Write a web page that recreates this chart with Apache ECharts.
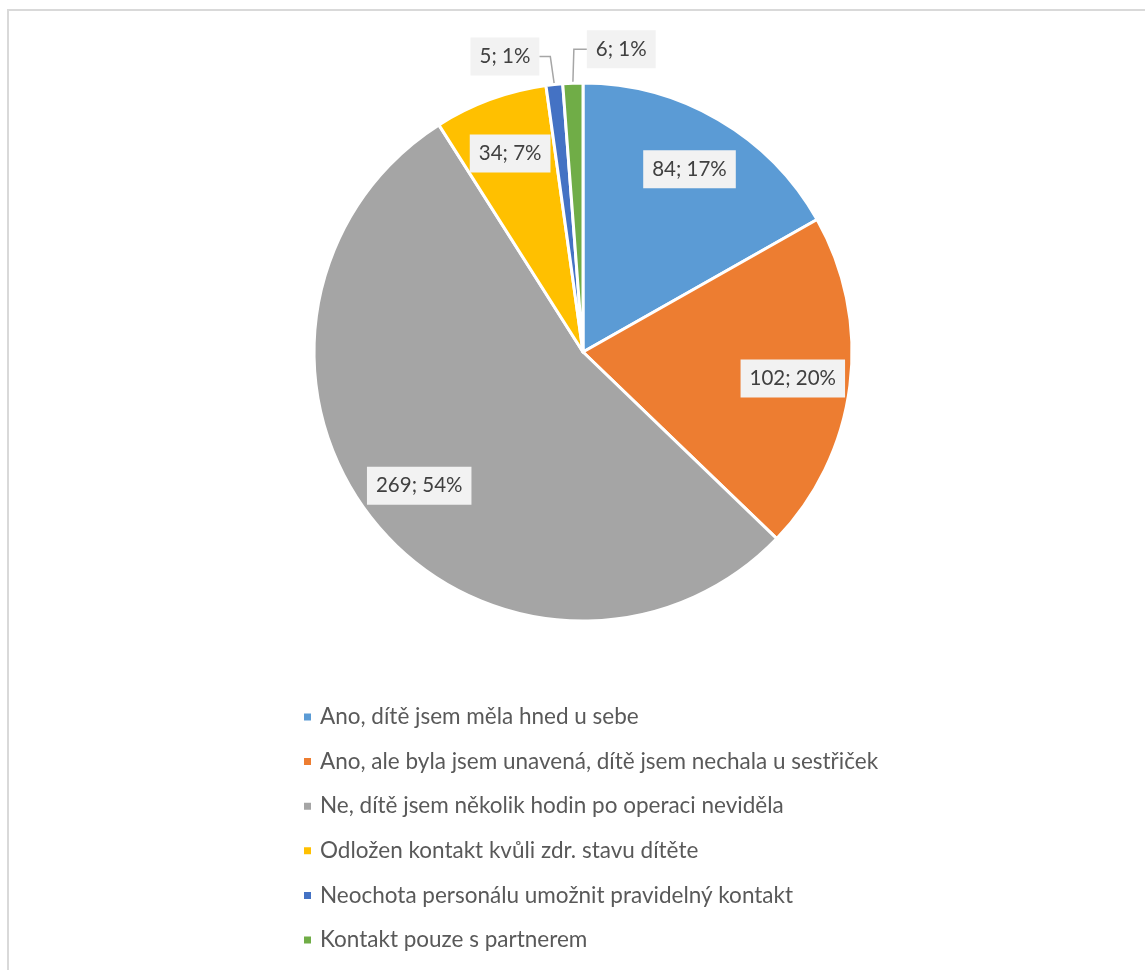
<!DOCTYPE html>
<html>
<head>
<meta charset="utf-8">
<script src="https://cdn.jsdelivr.net/npm/echarts@6/dist/echarts.min.js"></script>
<style>
  html, body { margin: 0; padding: 0; background: #fff; }
  #chart { width: 1145px; height: 970px; }
</style>
</head>
<body>
<div id="chart"></div>
<script>
// Answer categories and counts
const categories = [
  'Ano, dítě jsem měla hned u sebe',
  'Ano, ale byla jsem unavená, dítě jsem nechala u sestřiček',
  'Ne, dítě jsem několik hodin po operaci neviděla',
  'Odložen kontakt kvůli zdr. stavu dítěte',
  'Neochota personálu umožnit pravidelný kontakt',
  'Kontakt pouze s partnerem'
];
const counts = [84, 102, 269, 34, 5, 6];
const colors = ['#5B9BD5', '#ED7D31', '#A5A5A5', '#FFC000', '#4472C4', '#70AD47'];
// Slices too thin to hold their label inside
const outsideLabels = [false, false, false, false, true, true];

const total = counts.reduce((a, b) => a + b, 0);
const FONT = 'Lato, "Open Sans", sans-serif';
const CENTER = [583, 352];
const R = 269;

const sliceData = categories.map((name, i) => ({
  name, value: counts[i], itemStyle: { color: colors[i] }
}));

const labelData = categories.map((name, i) => ({
  name, value: counts[i],
  label: { position: outsideLabels[i] ? 'outside' : 'inside' },
  labelLine: { show: outsideLabels[i] }
}));

const labelStyle = {
  show: true,
  formatter: p => p.value + '; ' + Math.round(p.value / total * 100) + '%',
  fontFamily: FONT,
  fontSize: 20.5,
  color: '#404040',
  backgroundColor: '#F2F2F2',
  padding: [9, 9, 8, 9]
};

const chart = echarts.init(document.getElementById('chart'));
chart.setOption({
  backgroundColor: '#fff',
  animation: false,
  graphic: [{
    type: 'rect',
    shape: { x: 8, y: 10, width: 1300, height: 1200 },
    style: { fill: 'none', stroke: '#D9D9D9', lineWidth: 2 },
    silent: true
  }],
  legend: {
    orient: 'vertical',
    left: 297,
    top: 700,
    icon: 'rect',
    itemWidth: 9,
    itemHeight: 9,
    itemGap: 20.6,
    data: categories,
    textStyle: {
      fontFamily: FONT, fontSize: 22.5, color: '#595959',
      lineHeight: 24, padding: [0, 0, 0, 3]
    }
  },
  series: [
    {
      // coloured slices
      type: 'pie',
      center: CENTER,
      radius: R,
      startAngle: 90,
      clockwise: true,
      avoidLabelOverlap: false,
      label: { show: false },
      labelLine: { show: false },
      itemStyle: { borderColor: '#fff', borderWidth: 3 },
      emphasis: { disabled: true },
      silent: true,
      data: sliceData
    },
    {
      // value labels, placed on a transparent ring so inside labels sit near the rim
      type: 'pie',
      center: CENTER,
      radius: [R * 0.55, R],
      startAngle: 90,
      clockwise: true,
      avoidLabelOverlap: false,
      silent: true,
      emphasis: { disabled: true },
      itemStyle: { color: 'rgba(0,0,0,0)' },
      label: labelStyle,
      labelLine: {
        show: false,
        length: 27, length2: 10,
        lineStyle: { color: '#A6A6A6', width: 1.5 }
      },
      labelLayout: function (params) {
        if (!outsideLabels[params.dataIndex] || !params.labelLinePoints) return {};
        const p0 = params.labelLinePoints[0];
        const right = params.dataIndex === counts.length - 1;
        const up = right ? 34 : 28;
        const bend = [p0[0] + (right ? 1 : -4), p0[1] - up];
        const end = [bend[0] + (right ? 13 : -11), bend[1]];
        return {
          x: end[0],
          y: end[1],
          align: right ? 'left' : 'right',
          verticalAlign: 'middle',
          labelLinePoints: [p0, bend, end]
        };
      },
      data: labelData
    }
  ]
});
</script>
</body>
</html>
